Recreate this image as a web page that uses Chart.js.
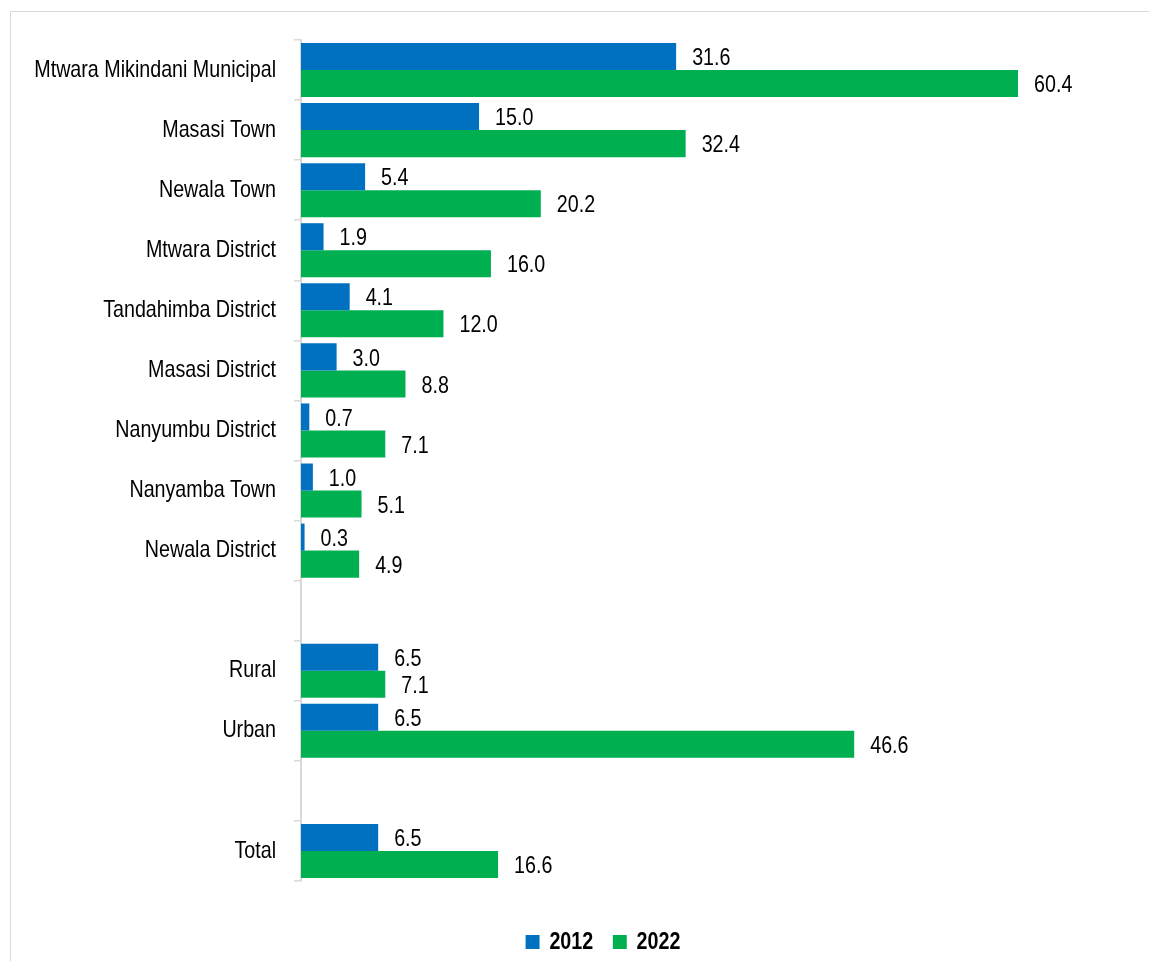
<!DOCTYPE html>
<html>
<head>
<meta charset="utf-8">
<script src="https://cdn.jsdelivr.net/npm/chart.js@4.4.1/dist/chart.umd.min.js"></script>
<style>
  html, body { margin: 0; padding: 0; background: #fff; overflow: hidden; }
  #wrap { position: relative; width: 1149px; height: 961px; }
  #frame { position: absolute; left: 10px; top: 11px; width: 1200px; height: 1000px; border: 1.5px solid #d9d9d9; box-sizing: border-box; }
  canvas { position: absolute; left: 0; top: 0; }
</style>
</head>
<body>
<div id="wrap">
  <div id="frame"></div>
  <canvas id="c" width="1149" height="961"></canvas>
</div>
<script>
const categories = ['Mtwara Mikindani Municipal','Masasi Town','Newala Town','Mtwara District','Tandahimba District','Masasi District','Nanyumbu District','Nanyamba Town','Newala District','','Rural','Urban','','Total'];
const series2012 = [31.6, 15.0, 5.4, 1.9, 4.1, 3.0, 0.7, 1.0, 0.3, null, 6.5, 6.5, null, 6.5];
const series2022 = [60.4, 32.4, 20.2, 16.0, 12.0, 8.8, 7.1, 5.1, 4.9, null, 7.1, 46.6, null, 16.6];
const seriesNames = ['2012', '2022'];
const seriesColors = ['#0070c0', '#00b050'];

const FONT = "'Liberation Sans', Arial, sans-serif";
const NARROW = 0.82;   // emulate a narrow face by horizontal scaling
const TICK_LEN = 7;
const TICK_PAD = 18;
const LEGEND_SHIFT = 3;

// Narrow the library-drawn y labels and legend
const narrowText = {
  id: 'narrowText',
  beforeDraw(chart) {
    const y = chart.scales.y;
    if (y && !y._narrowWrapped) {
      const orig = y.drawLabels;
      y._computeLabelArea = function () { return undefined; };
      y.drawLabels = function (area) {
        const ctx = this.ctx;
        const xr = this.right - TICK_LEN - TICK_PAD;
        ctx.save();
        ctx.translate(xr, 0); ctx.scale(NARROW, 1); ctx.translate(-xr, 0);
        orig.call(this, area);
        ctx.restore();
      };
      y._narrowWrapped = true;
    }
    const lg = chart.legend;
    if (lg && !lg._narrowWrapped) {
      const origL = lg.draw;
      lg.draw = function () {
        const ctx = this.ctx;
        const cx = this.left + this.width / 2;
        ctx.save();
        ctx.translate(cx, LEGEND_SHIFT); ctx.scale(NARROW, 1); ctx.translate(-cx, 0);
        origL.apply(this, arguments);
        ctx.restore();
      };
      lg._narrowWrapped = true;
    }
  }
};

const valueLabels = {
  id: 'valueLabels',
  afterDatasetsDraw(chart) {
    const ctx = chart.ctx;
    chart.data.datasets.forEach((ds, di) => {
      const meta = chart.getDatasetMeta(di);
      meta.data.forEach((bar, i) => {
        const v = ds.data[i];
        if (v === null || v === undefined) return;
        const x0 = bar.x + 16;
        ctx.save();
        ctx.translate(x0, bar.y + 2);
        ctx.scale(NARROW, 1);
        ctx.font = '24px ' + FONT;
        ctx.fillStyle = '#000';
        ctx.textAlign = 'left';
        ctx.textBaseline = 'middle';
        ctx.fillText(v.toFixed(1), 0, 0);
        ctx.restore();
      });
    });
  }
};

new Chart(document.getElementById('c'), {
  type: 'bar',
  data: {
    labels: categories,
    datasets: [
      { label: seriesNames[0], data: series2012, backgroundColor: seriesColors[0], categoryPercentage: 0.9, barPercentage: 1.0 },
      { label: seriesNames[1], data: series2022, backgroundColor: seriesColors[1], categoryPercentage: 0.9, barPercentage: 1.0 }
    ]
  },
  options: {
    indexAxis: 'y',
    responsive: false,
    animation: false,
    devicePixelRatio: 1,
    layout: { padding: { top: 40, right: 17, left: 74, bottom: 0 } },
    scales: {
      x: {
        min: 0, max: 70,
        display: true,
        ticks: { display: false },
        grid: { display: false },
        border: { display: false },
        afterFit(s) { s.height = 22; }
      },
      y: {
        offset: true,
        ticks: { color: '#000', font: { family: FONT, size: 24 }, padding: TICK_PAD, autoSkip: false },
        grid: { drawOnChartArea: false, drawTicks: true, tickLength: TICK_LEN, color: '#d9d9d9', lineWidth: 1.5, offset: true },
        border: { display: true, color: '#d9d9d9', width: 2 },
        afterFit(s) { s.width = 227; }
      }
    },
    plugins: {
      legend: {
        position: 'bottom',
        labels: {
          boxWidth: 17, boxHeight: 14, padding: 24,
          color: '#000',
          font: { family: FONT, size: 24, weight: 'bold' }
        }
      },
      tooltip: { enabled: false }
    }
  },
  plugins: [narrowText, valueLabels]
});
</script>
</body>
</html>
